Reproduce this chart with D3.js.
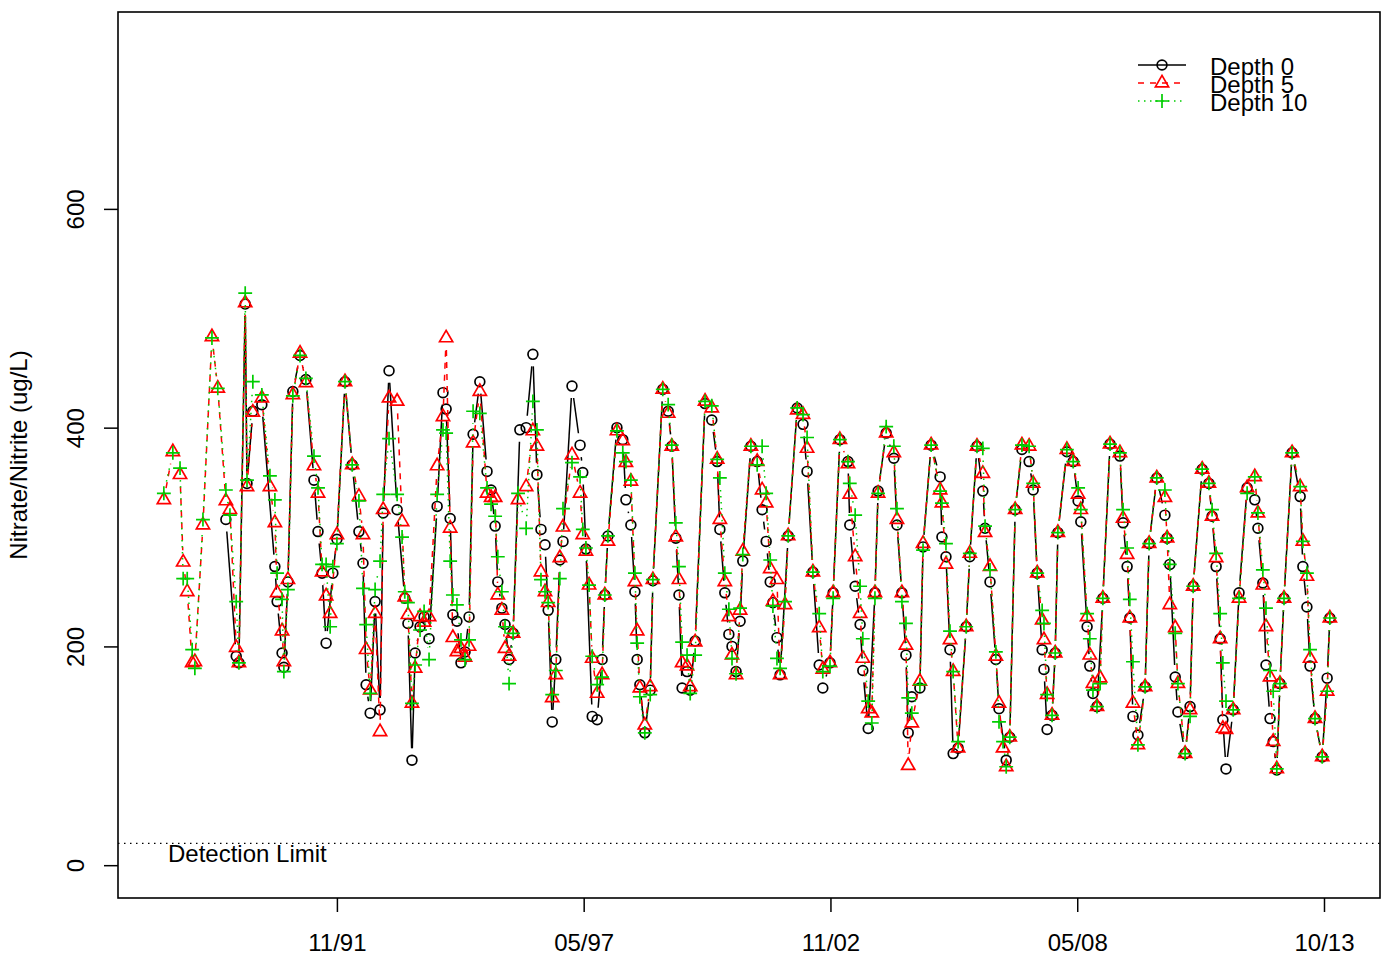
<!DOCTYPE html>
<html><head><meta charset="utf-8">
<script src="https://cdn.jsdelivr.net/npm/d3@7"></script>
<style>
body{margin:0;background:#fff}
svg{display:block}
text{font-family:"Liberation Sans",Arial,Helvetica,sans-serif;fill:#000}
</style>
</head><body>
<svg id="chart" width="1384" height="959"></svg>
<script>
// ---- data (decimal year of sampling, nitrate/nitrite ug/L) ----
const sampleYear = [
1988.02,1988.22,1988.38,1988.45,1988.54,1988.65,1988.71,1988.89,
1989.09,1989.22,1989.40,1989.49,1989.63,1989.69,1989.83,1989.87,
1990.00,1990.20,1990.38,1990.49,1990.54,1990.65,1990.69,1990.78,1990.89,
1991.05,1991.18,1991.36,1991.45,1991.54,1991.63,1991.72,1991.78,1991.87,
1992.05,1992.21,1992.36,1992.45,1992.52,1992.61,1992.72,1992.83,1992.90,
1993.03,1993.21,1993.32,1993.38,1993.45,1993.54,1993.61,1993.72,1993.81,1993.92,
1994.10,1994.23,1994.30,1994.39,1994.45,1994.54,1994.63,1994.72,1994.81,1994.90,
1995.05,1995.21,1995.30,1995.39,1995.45,1995.54,1995.61,1995.70,1995.79,1995.90,1995.94,
1996.08,1996.23,1996.32,1996.41,1996.50,1996.57,1996.66,1996.74,1996.83,1996.90,
1997.10,1997.28,1997.34,1997.41,1997.48,1997.55,1997.66,1997.77,1997.83,1997.90,
1998.10,1998.23,1998.30,1998.41,1998.50,1998.55,1998.61,1998.72,1998.84,1998.90,
1999.12,1999.24,1999.32,1999.41,1999.48,1999.55,1999.66,1999.73,1999.84,
2000.06,2000.21,2000.33,2000.39,2000.50,2000.59,2000.66,2000.75,2000.84,2000.90,
2001.08,2001.22,2001.33,2001.42,2001.51,2001.57,2001.66,2001.73,2001.84,2001.91,
2002.11,2002.24,2002.33,2002.46,2002.60,2002.68,2002.84,2002.91,
2003.06,2003.24,2003.28,2003.40,2003.51,2003.57,2003.69,2003.77,2003.84,2003.91,
2004.09,2004.26,2004.33,2004.44,2004.53,2004.58,2004.66,2004.84,2004.91,
2005.09,2005.29,2005.33,2005.42,2005.51,2005.58,2005.69,2005.87,2005.95,
2006.11,2006.24,2006.29,2006.40,2006.53,2006.60,2006.69,2006.76,2006.84,2006.96,
2007.11,2007.27,2007.36,2007.45,2007.56,2007.60,2007.67,2007.78,2007.85,2007.91,
2008.11,2008.25,2008.36,2008.42,2008.56,2008.62,2008.69,2008.78,2008.85,2008.91,
2009.07,2009.29,2009.36,2009.45,2009.51,2009.58,2009.69,2009.85,2009.94,
2010.11,2010.29,2010.34,2010.40,2010.52,2010.58,2010.74,2010.85,2010.92,
2011.12,2011.27,2011.34,2011.43,2011.52,2011.58,2011.65,2011.81,2011.94,
2012.12,2012.29,2012.36,2012.47,2012.54,2012.63,2012.70,2012.78,2012.85,2012.94,
2013.12,2013.30,2013.36,2013.45,2013.52,2013.63,2013.79,2013.90,2013.96
];
const depth0 = [
null,null,null,null,null,null,null,null,
null,null,316,null,191,185,513,349,
415,421,null,273,241,194,181,259,433,
466,444,352,305,267,203,null,267,298,
442,366,305,276,165,139,241,142,322,
452,325,null,244,221,96,194,218,227,207,
328,432,417,317,229,223,185,195,227,394,
442,360,343,310,259,235,220,188,212,null,398,
400,467,357,307,293,233,131,188,279,296,
438,384,359,289,null,136,133,188,247,301,
400,389,334,311,250,188,165,121,160,260,
435,415,383,299,247,162,177,160,205,
422,407,369,307,249,211,200,177,223,278,
383,369,325,296,259,240,208,174,null,301,
418,403,360,268,183,162,185,249,
389,369,311,255,220,178,125,null,249,342,
395,372,311,249,192,121,154,162,291,
384,355,300,282,197,102,107,218,282,
383,342,308,259,188,143,null,96,117,325,
380,369,343,267,197,179,124,137,194,304,
378,369,333,314,218,182,157,145,null,244,
385,374,313,273,226,136,119,163,294,
354,320,299,275,172,140,102,145,255,
362,349,319,273,207,133,88,142,249,
345,334,308,258,183,134,113,87,166,244,
377,337,273,236,182,134,99,171,226
];
const depth5 = [
334,378,357,277,250,185,186,311,
483,436,333,325,199,185,514,346,
414,427,346,313,249,214,186,261,430,
468,441,365,340,268,246,230,null,302,
442,366,337,302,197,160,230,122,325,
427,424,314,245,229,148,180,227,222,227,
365,410,482,308,208,195,198,190,200,386,
433,340,336,336,247,233,198,191,212,334,null,
346,397,383,268,250,240,153,174,281,309,
375,340,302,287,256,189,157,174,247,296,
397,388,368,351,259,214,162,128,163,261,
435,413,383,300,261,185,182,163,204,
424,418,371,316,259,227,192,174,233,287,
383,369,343,331,271,241,261,174,238,301,
416,412,381,268,217,179,185,249,
389,367,339,282,230,189,143,139,249,340,
395,377,316,249,201,91,130,168,294,
384,343,331,275,206,177,107,218,285,
383,358,304,273,191,148,107,90,117,325,
384,383,349,267,224,206,156,137,194,304,
380,369,339,325,227,192,166,145,171,244,
385,377,317,284,226,148,110,163,294,
354,336,299,238,217,166,102,142,255,
362,349,319,281,207,125,124,142,244,
345,355,322,256,218,172,113,88,166,244,
377,346,296,264,189,134,99,159,226
];
const depth10 = [
340,377,363,262,262,197,180,316,
482,436,343,320,241,185,523,352,
442,430,356,334,267,243,177,252,429,
466,445,374,345,275,275,218,273,294,
442,366,333,253,220,157,252,278,339,
390,339,300,250,240,148,183,215,232,188,
339,398,395,278,247,238,206,188,206,415,
413,345,330,319,282,250,218,166,212,340,null,
308,424,398,261,250,240,156,178,262,326,
368,355,307,290,256,191,165,172,247,301,
397,377,369,352,267,203,154,121,156,261,
435,421,384,313,273,204,192,157,192,
424,420,371,354,267,234,189,175,235,284,
383,366,383,340,279,237,189,180,241,301,
418,412,391,268,230,177,182,244,
389,369,349,320,255,207,150,130,244,340,
401,383,326,241,221,153,139,165,288,
384,342,331,294,214,177,113,218,285,
383,381,310,270,195,131,113,90,117,325,
384,383,349,267,233,221,156,137,194,304,
380,369,345,325,230,207,160,145,166,244,
385,377,325,290,243,186,110,163,294,
354,343,299,275,212,166,102,136,255,
362,349,325,285,230,185,150,142,244,
340,355,322,270,235,178,159,88,166,244,
377,346,296,267,197,134,99,159,226
];
const seriesNames = ["Depth 0", "Depth 5", "Depth 10"];
const xTickYears = [1991.87, 1997.36, 2002.85, 2008.34, 2013.83];
const xTickLabels = ["11/91", "05/97", "11/02", "05/08", "10/13"];
const yTickValues = [0, 200, 400, 600];
const detectionLimit = 20;
const detectionLabel = "Detection Limit";
const yTitle = "Nitrate/Nitrite (ug/L)";

// ---- layout / style ----
const W = 1384, H = 959;
const plot = {left: 118, right: 1380, top: 12, bottom: 898};
const FS = 24;
const R = 4.9;       // symbol radius
const SW = 1.7;      // symbol / line stroke width
const GAP = 12;      // type="b" gap around points
const svg = d3.select("#chart");

const x = d3.scaleLinear().domain([1987.0, 2015.076]).range([plot.left, plot.right]);
const y = d3.scaleLinear().domain([-30, 780]).range([plot.bottom, plot.top]);

const sym = {
  circle: () => `M${R},0A${R},${R} 0 1,1 ${-R},0A${R},${R} 0 1,1 ${R},0Z`,
  triangle: () => `M0,${-1.555*R}L${1.347*R},${0.778*R}L${-1.347*R},${0.778*R}Z`,
  plus: () => `M${-1.414*R},0H${1.414*R}M0,${-1.414*R}V${1.414*R}`
};
const series = [
  {name: seriesNames[0], values: depth0, color: "#000000", dash: null, shape: "circle"},
  {name: seriesNames[1], values: depth5, color: "#FF0000", dash: "6,6", shape: "triangle"},
  {name: seriesNames[2], values: depth10, color: "#00CD00", dash: "1.5,4.5", shape: "plus"}
];

// detection limit
svg.append("line")
  .attr("x1", plot.left).attr("x2", plot.right)
  .attr("y1", y(detectionLimit)).attr("y2", y(detectionLimit))
  .attr("stroke", "#000").attr("stroke-width", 1.3).attr("stroke-dasharray", "1.5,4.5");
svg.append("text").attr("x", 168).attr("y", y(detectionLimit) + 10)
  .attr("font-size", FS).attr("dominant-baseline", "central").text(detectionLabel);

// series
series.forEach(s => {
  const pts = sampleYear.map((t, i) => [t, s.values[i]]).filter(d => d[1] != null)
    .map(d => [x(d[0]), y(d[1])]);
  const g = svg.append("g");
  for (let i = 1; i < pts.length; i++) {
    const [x0, y0] = pts[i-1], [x1, y1] = pts[i];
    const d = Math.hypot(x1 - x0, y1 - y0);
    const f = GAP / d;
    if (f < 0.5) {
      g.append("line")
        .attr("x1", x0 + f*(x1-x0)).attr("y1", y0 + f*(y1-y0))
        .attr("x2", x1 - f*(x1-x0)).attr("y2", y1 - f*(y1-y0))
        .attr("stroke", s.color).attr("stroke-width", 1.5)
        .attr("stroke-dasharray", s.dash);
    }
  }
  g.selectAll("path.pt").data(pts).join("path")
    .attr("class", "pt")
    .attr("transform", d => `translate(${d[0]},${d[1]})`)
    .attr("d", sym[s.shape]())
    .attr("fill", "none").attr("stroke", s.color).attr("stroke-width", SW);
});

// box
svg.append("rect").attr("x", plot.left).attr("y", plot.top)
  .attr("width", plot.right - plot.left).attr("height", plot.bottom - plot.top)
  .attr("fill", "none").attr("stroke", "#000").attr("stroke-width", 1.6);

// x axis
const xAxis = d3.axisBottom(x).tickValues(xTickYears)
  .tickFormat((d, i) => xTickLabels[i]).tickSize(14).tickPadding(6);
const gx = svg.append("g").attr("transform", `translate(0,${plot.bottom})`).call(xAxis);
gx.select(".domain").remove();
gx.selectAll(".tick line").attr("stroke-width", 1.5);
gx.selectAll(".tick text").attr("font-size", FS).attr("font-family", null)
  .attr("y", 44).attr("dy", null).attr("dominant-baseline", "central");

// y axis
const yAxis = d3.axisLeft(y).tickValues(yTickValues).tickSize(14);
const gy = svg.append("g").attr("transform", `translate(${plot.left},0)`).call(yAxis);
gy.select(".domain").remove();
gy.selectAll(".tick line").attr("stroke-width", 1.5);
gy.selectAll(".tick text").attr("font-size", FS).attr("font-family", null)
  .attr("x", null).attr("dy", null)
  .attr("text-anchor", "middle").attr("dominant-baseline", "central")
  .attr("transform", "translate(-43,0) rotate(-90)");

// y title
svg.append("text").attr("transform", `translate(18,${(plot.top + plot.bottom)/2}) rotate(-90)`)
  .attr("text-anchor", "middle").attr("dominant-baseline", "central")
  .attr("font-size", FS).text(yTitle);

// legend (rows overlap as in the original R legend)
const lg = svg.append("g");
series.forEach((s, i) => {
  const cy = 65 + i * 18;
  lg.append("line").attr("x1", 1138).attr("x2", 1186).attr("y1", cy).attr("y2", cy)
    .attr("stroke", s.color).attr("stroke-width", 1.5).attr("stroke-dasharray", s.dash);
  lg.append("path").attr("transform", `translate(1162,${cy})`).attr("d", sym[s.shape]())
    .attr("fill", "none").attr("stroke", s.color).attr("stroke-width", SW);
  lg.append("text").attr("x", 1210).attr("y", cy + 1).attr("font-size", FS)
    .attr("dominant-baseline", "central").text(s.name);
});
</script>
</body></html>
